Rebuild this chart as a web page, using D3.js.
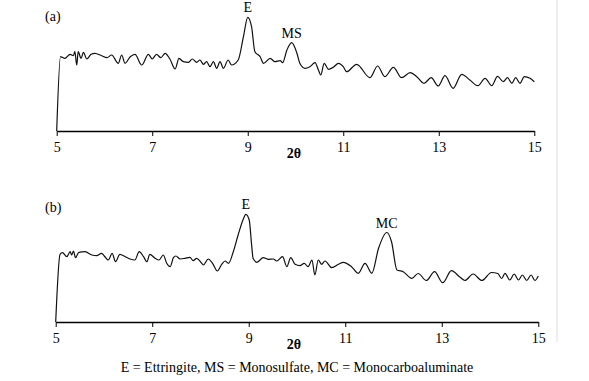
<!DOCTYPE html>
<html lang="en">
<meta charset="utf-8">
<title>XRD patterns</title>
<script src="https://d3js.org/d3.v7.min.js"></script>
<style>
body { margin: 0; background: white; }
.lbl { font-family: "Liberation Serif", "Times New Roman", serif; font-size: 14px; fill: black; }
.axis text { font-family: "Liberation Serif", "Times New Roman", serif; font-size: 14px; }
.xrd { fill: none; stroke: #111; stroke-width: 1.2px; }
</style>
<body>
<div id="chart"></div>
<script>
// tick labels on the 2theta axis
let ticks2theta = [5, 7, 9, 11, 13, 15];

// pattern (a): [2theta, intensity (arbitrary units)]
let patternA = [
  [5.00, 0], [5.08, 74.3], [5.17, 72.7], [5.28, 76.7], [5.35, 75.3], [5.38, 79.3], [5.42, 66],
  [5.45, 79.3], [5.51, 72.7], [5.56, 78.7], [5.63, 72], [5.72, 76.7], [5.80, 77.7], [5.94, 75.3],
  [6.05, 73.3], [6.15, 76], [6.29, 67.7], [6.36, 76], [6.43, 67.7], [6.54, 74.3], [6.64, 76.7],
  [6.78, 66], [6.92, 76.7], [7.00, 72], [7.09, 76.7], [7.18, 73.3], [7.27, 77.7], [7.37, 72],
  [7.48, 62], [7.56, 72.7], [7.65, 69.3], [7.76, 68.7], [7.84, 72], [7.93, 68.7], [8.00, 71],
  [8.07, 66.7], [8.14, 69.3], [8.21, 64.3], [8.28, 69.3], [8.35, 62.7], [8.42, 69.3], [8.49, 62.7],
  [8.59, 71], [8.66, 66], [8.80, 71], [8.91, 94.3], [9.00, 113.7], [9.08, 104.3], [9.15, 79.3],
  [9.26, 74.3], [9.33, 67.7], [9.47, 72.7], [9.57, 69.3], [9.68, 70.3], [9.73, 68.3], [9.82, 81],
  [9.92, 88.3], [10.03, 77.7], [10.09, 67.7], [10.20, 62.7], [10.30, 64.3], [10.41, 68.3],
  [10.48, 61], [10.53, 56], [10.60, 67.7], [10.69, 61.7], [10.79, 63.7], [10.90, 67.7],
  [11.00, 64.3], [11.07, 59.3], [11.28, 66.7], [11.56, 53.3], [11.72, 65], [11.87, 54.3],
  [12.05, 63.7], [12.22, 53.3], [12.40, 58.3], [12.54, 54.3], [12.69, 47.7], [12.84, 53.3],
  [12.99, 45], [13.13, 55.3], [13.30, 42.7], [13.48, 56.7], [13.65, 51], [13.82, 45.3],
  [13.97, 52.7], [14.11, 45.3], [14.23, 54.7], [14.35, 49.3], [14.44, 53.3], [14.53, 47.7],
  [14.61, 53.3], [14.70, 47.7], [14.79, 54.3], [14.91, 52.7], [15.00, 49.3]
];

// pattern (b): [2theta, intensity (arbitrary units)]
let patternB = [
  [5.00, 0], [5.09, 67.7], [5.14, 69.3], [5.23, 65.3], [5.30, 70.3], [5.33, 67], [5.37, 71],
  [5.41, 64.3], [5.48, 69.7], [5.61, 70.3], [5.75, 67], [5.85, 66.3], [5.95, 68.7], [6.02, 65.3],
  [6.09, 62], [6.17, 68.7], [6.24, 60.3], [6.33, 67.7], [6.44, 65.3], [6.54, 63], [6.64, 62],
  [6.73, 70.3], [6.82, 65.3], [6.89, 60.3], [6.95, 67.7], [7.06, 63.7], [7.14, 62], [7.23, 67],
  [7.30, 58.7], [7.37, 55.3], [7.44, 64.3], [7.49, 66], [7.58, 63], [7.68, 63.7], [7.78, 64.7],
  [7.85, 61.3], [7.92, 63.7], [8.01, 59.7], [8.06, 57], [8.16, 63], [8.25, 58.7], [8.35, 51],
  [8.44, 57.7], [8.51, 61], [8.58, 58.7], [8.68, 70.3], [8.78, 87], [8.88, 102], [8.94, 107.7],
  [9.01, 102], [9.06, 77], [9.09, 63.7], [9.17, 59.7], [9.30, 64.3], [9.41, 62.7], [9.51, 63],
  [9.58, 61], [9.70, 65.3], [9.79, 55.3], [9.87, 64.3], [9.96, 57.7], [10.06, 56.3], [10.15, 58.7],
  [10.23, 55.3], [10.31, 62], [10.37, 47], [10.44, 62], [10.51, 57.7], [10.58, 61], [10.72, 54.3],
  [10.86, 57.7], [10.96, 59.7], [11.13, 55.3], [11.27, 48.7], [11.41, 58.7], [11.55, 48.7],
  [11.69, 73.7], [11.86, 89.5], [11.96, 80], [12.07, 52], [12.20, 50.3], [12.38, 43.7],
  [12.51, 48.5], [12.68, 41.5], [12.85, 50.3], [13.02, 39.3], [13.20, 51.3], [13.38, 44.7],
  [13.48, 41.5], [13.65, 48], [13.83, 41.5], [14.03, 49.5], [14.16, 48.5], [14.24, 43.5],
  [14.31, 48.7], [14.41, 42], [14.50, 48], [14.59, 42], [14.67, 47], [14.76, 41.5], [14.85, 47],
  [14.93, 41.5], [15.00, 46]
];

// peak labels per panel: [2theta, intensity, text]
let peaksA = [[9.00, 113.7, "E"], [9.92, 88.3, "MS"]];
let peaksB = [[8.94, 107.7, "E"], [11.86, 89.5, "MC"]];

let caption = "E = Ettringite, MS = Monosulfate, MC = Monocarboaluminate";

let W = 589, H = 381;
let svg = d3.select("#chart").append("svg")
  .attr("width", W)
  .attr("height", H);

// light frame line on the right, as in the source figure
svg.append("line")
  .attr("x1", 557).attr("x2", 557)
  .attr("y1", 0).attr("y2", 342)
  .attr("stroke", "#ddd").attr("stroke-width", 1);

function drawPanel(data, peaks, tag, x0, x1, yAxis, yTop) {
  let x = d3.scaleLinear().domain([5, 15]).range([x0, x1]);
  let y = d3.scaleLinear().domain([0, 100]).range([yAxis, yTop]);

  let g = svg.append("g");

  // x axis
  g.append("g")
    .attr("class", "axis")
    .attr("transform", "translate(0," + yAxis + ")")
    .call(d3.axisBottom(x).tickValues(ticks2theta).tickSize(5).tickSizeOuter(0).tickFormat(d3.format("d")))
    .call(a => a.select(".domain").attr("stroke", "#000").attr("stroke-width", 1.3))
    .call(a => a.selectAll(".tick line").attr("stroke", "#000"))
    .call(a => a.selectAll(".tick text").attr("dy", null).attr("y", 21).attr("fill", "#000"));

  // axis title
  g.append("text")
    .attr("class", "lbl")
    .attr("x", 294)
    .attr("y", yAxis + 27)
    .attr("text-anchor", "middle")
    .style("font-weight", "bold")
    .text("2\u03b8");

  // the pattern
  let line = d3.line()
    .x(d => x(d[0]))
    .y(d => y(d[1]))
    .curve(d3.curveMonotoneX);

  g.append("path")
    .datum(data)
    .attr("class", "xrd")
    .attr("d", line);

  // panel tag
  g.append("text")
    .attr("class", "lbl")
    .attr("x", 45)
    .attr("y", tag[1])
    .text(tag[0]);

  // peak labels
  g.selectAll(".peak")
    .data(peaks)
    .enter()
    .append("text")
      .attr("class", "lbl")
      .attr("x", d => x(d[0]))
      .attr("y", d => y(d[1]) - 5)
      .attr("text-anchor", "middle")
      .text(d => d[2]);
}

// panel (a)
drawPanel(patternA, peaksA, ["(a)", 21], 56.7, 534.3, 131, 31);
// panel (b)
drawPanel(patternB, peaksB, ["(b)", 212], 55.7, 538.3, 322, 222);

svg.append("text")
  .attr("class", "lbl")
  .attr("x", 297)
  .attr("y", 372)
  .attr("text-anchor", "middle")
  .text(caption);
</script>
</body>
</html>
